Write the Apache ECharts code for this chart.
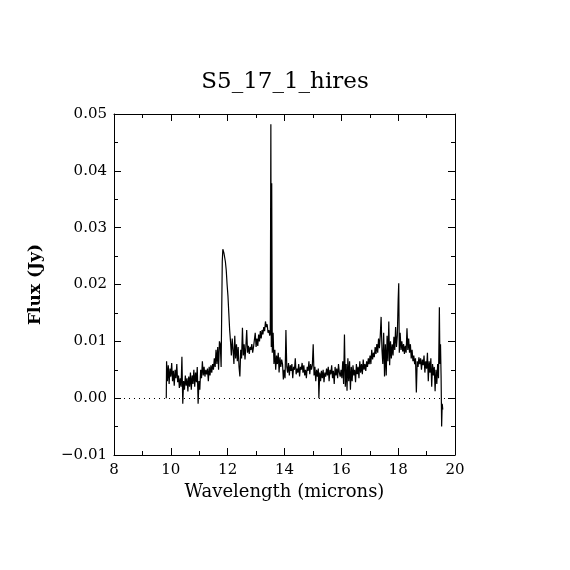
<!DOCTYPE html>
<html>
<head>
<meta charset="utf-8">
<script src="https://cdn.jsdelivr.net/npm/echarts@6/dist/echarts.min.js"></script>
<style>
  html, body { margin: 0; padding: 0; background: #fff; }
  #spectrum { width: 570px; height: 570px; }
</style>
</head>
<body>
<div id="spectrum"></div>
<script>
// wavelength (microns) and flux (Jy)
var wavelength = [
  9.84, 9.85, 9.88, 9.91, 9.94, 9.97, 10.00, 10.03, 10.06, 10.09, 10.12, 10.15, 10.18, 10.21, 10.24, 10.27, 10.30, 10.33, 10.36, 10.39, 10.42, 10.45,
  10.48, 10.51, 10.54, 10.57, 10.60, 10.63, 10.66, 10.69, 10.72, 10.75, 10.78, 10.81, 10.84, 10.87, 10.90, 10.93, 10.96, 10.99,
  11.02, 11.05, 11.08, 11.11, 11.14, 11.17, 11.20, 11.23, 11.26, 11.29, 11.32, 11.35, 11.38, 11.41, 11.44, 11.47,
  11.50, 11.53, 11.56, 11.59, 11.62, 11.65, 11.68, 11.71, 11.74, 11.77, 11.79, 11.81, 11.83, 11.85,
  11.87, 11.89, 11.92, 11.95, 11.98, 12.01, 12.04, 12.07, 12.10, 12.13, 12.16, 12.19, 12.22, 12.25, 12.28, 12.31, 12.34, 12.37, 12.40, 12.43, 12.46, 12.49,
  12.52, 12.55, 12.58, 12.61, 12.64, 12.67, 12.70, 12.73, 12.76, 12.79, 12.82, 12.85, 12.88, 12.91, 12.94, 12.97, 13.00, 13.03, 13.06, 13.09, 13.12, 13.15,
  13.18, 13.21, 13.24, 13.27, 13.30, 13.33, 13.36, 13.39, 13.42, 13.45, 13.48,
  13.50, 13.52, 13.535, 13.55, 13.57,
  13.60, 13.63, 13.66, 13.69, 13.72, 13.75, 13.78, 13.81, 13.84, 13.87, 13.90, 13.93, 13.96, 13.99,
  14.02, 14.05, 14.08, 14.11, 14.14, 14.17, 14.20, 14.23, 14.26, 14.29, 14.32, 14.35, 14.38, 14.41, 14.44, 14.47, 14.50, 14.53, 14.56, 14.59, 14.62,
  14.65, 14.68, 14.71, 14.74, 14.77, 14.80, 14.83, 14.86, 14.89, 14.92, 14.95, 14.98,
  15.01, 15.04, 15.07, 15.10, 15.13, 15.16, 15.19, 15.21, 15.24, 15.27, 15.30, 15.33, 15.36, 15.39, 15.42, 15.45, 15.48, 15.51, 15.54, 15.57, 15.60,
  15.63, 15.66, 15.69, 15.72, 15.75, 15.78, 15.81, 15.84, 15.87, 15.90, 15.93, 15.96, 15.99,
  16.02, 16.05, 16.08, 16.11, 16.14, 16.17, 16.20, 16.23, 16.26, 16.29, 16.32, 16.35, 16.38, 16.41, 16.44, 16.47, 16.50, 16.53, 16.56, 16.59, 16.62,
  16.65, 16.68, 16.71, 16.74, 16.77, 16.80, 16.83, 16.86, 16.89, 16.92, 16.95, 16.98,
  17.01, 17.04, 17.07, 17.10, 17.13, 17.16, 17.19, 17.22, 17.25, 17.28, 17.31, 17.34, 17.37, 17.40, 17.43, 17.46, 17.49, 17.52, 17.55, 17.58, 17.61,
  17.64, 17.67, 17.70, 17.73, 17.76, 17.79, 17.82, 17.85, 17.88, 17.91, 17.94, 17.97, 18.00, 18.02, 18.04,
  18.07, 18.10, 18.13, 18.16, 18.19, 18.22, 18.25, 18.28, 18.31, 18.34, 18.37, 18.40, 18.43, 18.46, 18.49, 18.52, 18.55, 18.58, 18.61, 18.64, 18.67,
  18.70, 18.73, 18.76, 18.79, 18.82, 18.85, 18.88, 18.91, 18.94, 18.97,
  19.00, 19.03, 19.06, 19.09, 19.12, 19.15, 19.18, 19.21, 19.24, 19.27, 19.30, 19.33, 19.36, 19.39, 19.42, 19.45, 19.47, 19.49, 19.51, 19.53, 19.55, 19.57
];
var flux = [
  0.0000, 0.0065, 0.0030, 0.0058, 0.0025, 0.0052, 0.0038, 0.0062, 0.0030, 0.0048, 0.0022, 0.0050, 0.0035, 0.0060, 0.0028, 0.0040, 0.0018, 0.0035, 0.0020, 0.0073, -0.0010, 0.0030,
  0.0015, 0.0040, 0.0022, 0.0035, 0.0012, 0.0038, 0.0020, 0.0045, 0.0015, 0.0040, 0.0025, 0.0050, 0.0020, 0.0045, 0.0028, 0.0055, -0.0010, 0.0030,
  0.0015, 0.0050, 0.0035, 0.0065, 0.0040, 0.0055, 0.0038, 0.0050, 0.0042, 0.0052, 0.0030, 0.0055, 0.0040, 0.0058, 0.0045, 0.0060,
  0.0050, 0.0070, 0.0055, 0.0085, 0.0060, 0.0090, 0.0050, 0.0100, 0.0095, 0.0055, 0.0150, 0.0240, 0.0262, 0.0265,
  0.0255, 0.0258, 0.0240, 0.0225, 0.0200, 0.0180, 0.0150, 0.0120, 0.0100, 0.0075, 0.0105, 0.0085, 0.0060, 0.0110, 0.0070, 0.0095, 0.0065, 0.0090, 0.0055, 0.0038, 0.0085, 0.0070,
  0.0124, 0.0075, 0.0095, 0.0068, 0.0090, 0.0120, 0.0080, 0.0092, 0.0078, 0.0090, 0.0085, 0.0095, 0.0080, 0.0090, 0.0088, 0.0115, 0.0090, 0.0105, 0.0092, 0.0112, 0.0100, 0.0118,
  0.0105, 0.0120, 0.0112, 0.0125, 0.0118, 0.0135, 0.0125, 0.0130, 0.0115, 0.0120, 0.0110,
  0.0115, 0.0482, 0.0090, 0.0378, 0.0080,
  0.0115, 0.0060, 0.0085, 0.0050, 0.0075, 0.0060, 0.0080, 0.0045, 0.0072, 0.0055, 0.0068, 0.0060, 0.0033, 0.0050,
  0.0035, 0.0120, 0.0055, 0.0045, 0.0062, 0.0040, 0.0058, 0.0048, 0.0060, 0.0035, 0.0055, 0.0050, 0.0070, 0.0042, 0.0052, 0.0045, 0.0060, 0.0038, 0.0055, 0.0050, 0.0062,
  0.0045, 0.0058, 0.0040, 0.0050, 0.0035, 0.0055, 0.0048, 0.0065, 0.0042, 0.0060, 0.0050, 0.0058,
  0.0095, 0.0040, 0.0055, 0.0030, 0.0050, 0.0038, 0.0052, 0.0000, 0.0045, 0.0030, 0.0048, 0.0035, 0.0050, 0.0028, 0.0045, 0.0038, 0.0052, 0.0040, 0.0055, 0.0030, 0.0050,
  0.0042, 0.0058, 0.0035, 0.0048, 0.0025, 0.0055, 0.0040, 0.0052, 0.0035, 0.0060, 0.0045, 0.0038, 0.0050,
  0.0035, 0.0065, 0.0025, 0.0112, 0.0020, 0.0060, 0.0013, 0.0070, 0.0030, 0.0065, 0.0015, 0.0055, 0.0030, 0.0058, 0.0040, 0.0050, 0.0028, 0.0060, 0.0042, 0.0055, 0.0035,
  0.0065, 0.0045, 0.0060, 0.0042, 0.0068, 0.0050, 0.0060, 0.0048, 0.0065, 0.0055, 0.0070, 0.0060,
  0.0075, 0.0060, 0.0085, 0.0068, 0.0080, 0.0072, 0.0090, 0.0078, 0.0095, 0.0080, 0.0105, 0.0088, 0.0110, 0.0143, 0.0085, 0.0060, 0.0115, 0.0038, 0.0095, 0.0040, 0.0110,
  0.0065, 0.0135, 0.0058, 0.0100, 0.0070, 0.0095, 0.0075, 0.0108, 0.0085, 0.0125, 0.0090, 0.0110, 0.0173, 0.0202, 0.0080,
  0.0115, 0.0085, 0.0100, 0.0082, 0.0095, 0.0078, 0.0092, 0.0080, 0.0123, 0.0085, 0.0105, 0.0080, 0.0095, 0.0070, 0.0085, 0.0065, 0.0075, 0.0060, 0.0070, 0.0010, 0.0065,
  0.0055, 0.0072, 0.0060, 0.0070, 0.0050, 0.0068, 0.0058, 0.0075, 0.0045, 0.0065,
  0.0052, 0.0080, 0.0030, 0.0065, 0.0045, 0.0070, 0.0020, 0.0060, 0.0040, 0.0055, 0.0012, 0.0050, 0.0025, 0.0060, 0.0035, 0.0160, 0.0060, 0.0095, 0.0040, -0.0050, -0.0010, -0.0020
];
var xTicks = [8, 10, 12, 14, 16, 18, 20];
var yTicks = [-0.01, 0.00, 0.01, 0.02, 0.03, 0.04, 0.05];

var chartSpec = echarts.init(document.getElementById('spectrum'));

var serif = 'DejaVu Serif';
var points = wavelength.map(function (w, i) { return [w, flux[i]]; });

function yLabel(v) {
  return v.toFixed(2).replace('-', '\u2212');
}

var frameLine = { show: true, onZero: false, lineStyle: { color: '#000', width: 1 } };
var tickIn = { show: true, inside: true, length: 7, lineStyle: { color: '#000', width: 1 } };
var minorIn = { show: true, splitNumber: 2, length: 4, lineStyle: { color: '#000', width: 1 } };

var chartOption = {
    animation: false,
    backgroundColor: '#fff',
    title: {
      text: 'S5_17_1_hires',
      left: 'center',
      top: 66,
      textStyle: { fontFamily: serif, fontWeight: 'normal', fontSize: 23, color: '#000' }
    },
    grid: { left: 114, right: 115, top: 114, bottom: 115, show: false },
    xAxis: [{
      type: 'value',
      min: xTicks[0],
      max: xTicks[xTicks.length - 1],
      interval: 2,
      position: 'bottom',
      name: 'Wavelength (microns)',
      nameLocation: 'middle',
      nameGap: 26,
      nameTextStyle: { fontFamily: serif, fontSize: 18, color: '#000' },
      axisLine: frameLine,
      axisTick: tickIn,
      minorTick: minorIn,
      axisLabel: { fontFamily: serif, fontSize: 15, color: '#000', margin: 8 },
      splitLine: { show: false }
    }, {
      type: 'value',
      min: xTicks[0],
      max: xTicks[xTicks.length - 1],
      interval: 2,
      position: 'top',
      axisLine: frameLine,
      axisTick: tickIn,
      minorTick: minorIn,
      axisLabel: { show: false },
      splitLine: { show: false }
    }],
    yAxis: [{
      type: 'value',
      min: yTicks[0],
      max: yTicks[yTicks.length - 1],
      interval: 0.01,
      position: 'left',
      name: 'Flux (Jy)',
      nameLocation: 'middle',
      nameGap: 70,
      nameTextStyle: { fontFamily: serif, fontSize: 17, fontWeight: 'bold', color: '#000' },
      axisLine: frameLine,
      axisTick: tickIn,
      minorTick: minorIn,
      axisLabel: { fontFamily: serif, fontSize: 15, color: '#000', margin: 7, formatter: yLabel },
      splitLine: { show: false }
    }, {
      type: 'value',
      min: yTicks[0],
      max: yTicks[yTicks.length - 1],
      interval: 0.01,
      position: 'right',
      axisLine: frameLine,
      axisTick: tickIn,
      minorTick: minorIn,
      axisLabel: { show: false },
      splitLine: { show: false }
    }],
    series: [{
      name: 'flux',
      type: 'line',
      xAxisIndex: 0,
      yAxisIndex: 0,
      data: points,
      showSymbol: false,
      symbol: 'none',
      lineStyle: { color: '#000', width: 1.2 },
      markLine: {
        silent: true,
        symbol: 'none',
        label: { show: false },
        lineStyle: { color: '#000', type: [1, 4], width: 1 },
        data: [{ yAxis: 0 }]
      }
    }]
  };

chartSpec.setOption(chartOption);
</script>
</body>
</html>
